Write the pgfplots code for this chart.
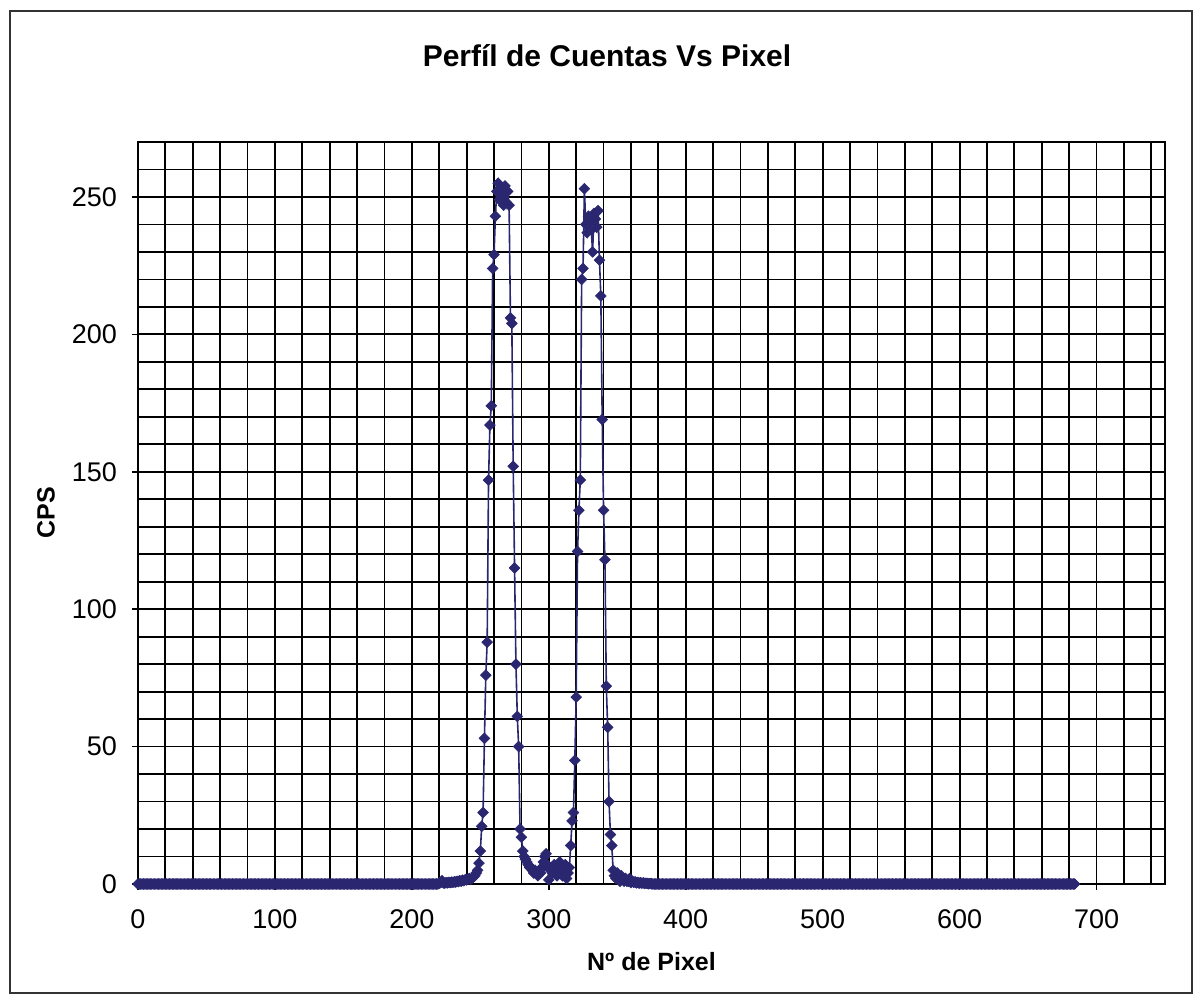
\documentclass[border=0pt]{standalone}
\usepackage{fontspec}
\setmainfont{Liberation Sans}
\usepackage{pgfplots}
\pgfplotsset{compat=1.18}
\definecolor{navy}{RGB}{42,38,112}
\begin{document}
\begin{tikzpicture}
\useasboundingbox (0,0) rectangle (597pt,498.5pt);
\draw[black!80, line width=0.8pt] (5pt,2pt) rectangle (596pt,493pt);
\node[anchor=base, font=\bfseries\fontsize{15}{18}\selectfont] at (303.5pt,465pt) {Perfíl de Cuentas Vs Pixel};
\begin{axis}[
  at={(69pt,56.5pt)}, anchor=south west, scale only axis,
  width=513.5pt, height=371pt,
  xmin=0, xmax=750, ymin=0, ymax=270,
  xtick={0,100,...,700}, ytick={0,50,...,250},
  minor xtick={20,40,...,740}, minor ytick={10,20,...,260},
  grid=both,
  major grid style={black, line width=0.9pt},
  minor grid style={black, line width=0.9pt},
  axis line style={black, line width=0.9pt},
  tick align=outside, major tick length=3pt, minor tick length=0pt,
  tick style={black, line width=0.8pt},
  xtick pos=left, ytick pos=left,
  /pgf/number format/assume math mode=true,
  ticklabel style={font=\fontsize{13.5}{16}\selectfont},
  xticklabel style={yshift=-6.5pt},
  yticklabel style={xshift=-4pt},
  xlabel={Nº de Pixel}, ylabel={CPS},
  label style={font=\bfseries\fontsize{12.5}{15}\selectfont},
  xlabel style={at={(axis description cs:0.5,0)}, anchor=base, yshift=-43pt},
  ylabel style={at={(axis description cs:-0.0896,0.5)}, anchor=center},
]
\addplot[navy, line width=0.8pt, mark=square*, mark size=1.9pt, mark options={rotate=45, line width=0.3pt, fill=navy}] coordinates {
(0,0)(1,0)(2,0)(3,0)(4,0)(5,0)(6,0)(7,0)(8,0)(9,0)
(10,0)(11,0)(12,0)(13,0)(14,0)(15,0)(16,0)(17,0)(18,0)(19,0)
(20,0)(21,0)(22,0)(23,0)(24,0)(25,0)(26,0)(27,0)(28,0)(29,0)
(30,0)(31,0)(32,0)(33,0)(34,0)(35,0)(36,0)(37,0)(38,0)(39,0)
(40,0)(41,0)(42,0)(43,0)(44,0)(45,0)(46,0)(47,0)(48,0)(49,0)
(50,0)(51,0)(52,0)(53,0)(54,0)(55,0)(56,0)(57,0)(58,0)(59,0)
(60,0)(61,0)(62,0)(63,0)(64,0)(65,0)(66,0)(67,0)(68,0)(69,0)
(70,0)(71,0)(72,0)(73,0)(74,0)(75,0)(76,0)(77,0)(78,0)(79,0)
(80,0)(81,0)(82,0)(83,0)(84,0)(85,0)(86,0)(87,0)(88,0)(89,0)
(90,0)(91,0)(92,0)(93,0)(94,0)(95,0)(96,0)(97,0)(98,0)(99,0)
(100,0)(101,0)(102,0)(103,0)(104,0)(105,0)(106,0)(107,0)(108,0)(109,0)
(110,0)(111,0)(112,0)(113,0)(114,0)(115,0)(116,0)(117,0)(118,0)(119,0)
(120,0)(121,0)(122,0)(123,0)(124,0)(125,0)(126,0)(127,0)(128,0)(129,0)
(130,0)(131,0)(132,0)(133,0)(134,0)(135,0)(136,0)(137,0)(138,0)(139,0)
(140,0)(141,0)(142,0)(143,0)(144,0)(145,0)(146,0)(147,0)(148,0)(149,0)
(150,0)(151,0)(152,0)(153,0)(154,0)(155,0)(156,0)(157,0)(158,0)(159,0)
(160,0)(161,0)(162,0)(163,0)(164,0)(165,0)(166,0)(167,0)(168,0)(169,0)
(170,0)(171,0)(172,0)(173,0)(174,0)(175,0)(176,0)(177,0)(178,0)(179,0)
(180,0)(181,0)(182,0)(183,0)(184,0)(185,0)(186,0)(187,0)(188,0)(189,0)
(190,0)(191,0)(192,0)(193,0)(194,0)(195,0)(196,0)(197,0)(198,0)(199,0)
(200,0)(201,0)(202,0)(203,0)(204,0)(205,0)(206,0)(207,0)(208,0)(209,0)
(210,0)(211,0)(212,0)(213,0)(214,0)(215,0)(216,0)(217,0)(218,0)(219,0)
(220,0.3)(221,0.5)(222,1.2)(223,0.4)(224,0.3)(225,0.5)(226,0.4)(227,0.6)(228,0.5)(229,0.7)
(230,0.6)(231,0.8)(232,0.7)(233,1)(234,0.9)(235,1.2)(236,1)(237,1.4)(238,1.2)(239,1.6)
(240,1.5)(241,1.8)(242,2)(243,1.7)(244,2.2)(245,2.5)(246,3)(247,4)(248,5)(249,7.6)
(250,12)(251,21)(252,26)(253,53)(254,76)(255,88)(256,147)(257,167)(258,174)(259,224)
(260,229)(261,243)(262,252)(263,255)(264,249)(265,253)(266,251)(267,247)(268,254)(269,248)
(270,252)(271,247)(272,206)(273,204)(274,152)(275,115)(276,80)(277,61)(278,50)(279,20)
(280,17)(281,12)(282,10)(283,9)(284,8)(285,7)(286,6)(287,6)(288,5)(289,4)
(290,5)(291,4)(292,3)(293,5)(294,4)(295,6)(296,8)(297,10)(298,11)(299,7)
(300,1.5)(301,5)(302,6)(303,4)(304,7)(305,5)(306,3)(307,6)(308,8)(309,5)
(310,3)(311,6)(312,7)(313,2)(314,4)(315,6)(316,14)(317,23)(318,26)(319,45)
(320,68)(321,121)(322,136)(323,147)(324,220)(325,224)(326,253)(327,240)(328,237)(329,243)
(330,241)(331,238)(332,230)(333,244)(334,242)(335,239)(336,245)(337,227)(338,214)(339,169)
(340,136)(341,118)(342,72)(343,57)(344,30)(345,18)(346,14)(347,5)(348,3)(349,2)
(350,4)(351,3)(352,1)(353,3)(354,2)(355,1)(356,2)(357,1)(358,1)(359,2)
(360,0.5)(361,1)(362,0.6)(363,0.8)(364,0.4)(365,0.6)(366,0.3)(367,0.5)(368,0.3)(369,0.4)
(370,0.2)(371,0.3)(372,0.2)(373,0.1)(374,0.2)(375,0.1)(376,0)(377,0)(378,0)(379,0)
(380,0)(381,0)(382,0)(383,0)(384,0)(385,0)(386,0)(387,0)(388,0)(389,0)
(390,0)(391,0)(392,0)(393,0)(394,0)(395,0)(396,0)(397,0)(398,0)(399,0)
(400,0)(401,0)(402,0)(403,0)(404,0)(405,0)(406,0)(407,0)(408,0)(409,0)
(410,0)(411,0)(412,0)(413,0)(414,0)(415,0)(416,0)(417,0)(418,0)(419,0)
(420,0)(421,0)(422,0)(423,0)(424,0)(425,0)(426,0)(427,0)(428,0)(429,0)
(430,0)(431,0)(432,0)(433,0)(434,0)(435,0)(436,0)(437,0)(438,0)(439,0)
(440,0)(441,0)(442,0)(443,0)(444,0)(445,0)(446,0)(447,0)(448,0)(449,0)
(450,0)(451,0)(452,0)(453,0)(454,0)(455,0)(456,0)(457,0)(458,0)(459,0)
(460,0)(461,0)(462,0)(463,0)(464,0)(465,0)(466,0)(467,0)(468,0)(469,0)
(470,0)(471,0)(472,0)(473,0)(474,0)(475,0)(476,0)(477,0)(478,0)(479,0)
(480,0)(481,0)(482,0)(483,0)(484,0)(485,0)(486,0)(487,0)(488,0)(489,0)
(490,0)(491,0)(492,0)(493,0)(494,0)(495,0)(496,0)(497,0)(498,0)(499,0)
(500,0)(501,0)(502,0)(503,0)(504,0)(505,0)(506,0)(507,0)(508,0)(509,0)
(510,0)(511,0)(512,0)(513,0)(514,0)(515,0)(516,0)(517,0)(518,0)(519,0)
(520,0)(521,0)(522,0)(523,0)(524,0)(525,0)(526,0)(527,0)(528,0)(529,0)
(530,0)(531,0)(532,0)(533,0)(534,0)(535,0)(536,0)(537,0)(538,0)(539,0)
(540,0)(541,0)(542,0)(543,0)(544,0)(545,0)(546,0)(547,0)(548,0)(549,0)
(550,0)(551,0)(552,0)(553,0)(554,0)(555,0)(556,0)(557,0)(558,0)(559,0)
(560,0)(561,0)(562,0)(563,0)(564,0)(565,0)(566,0)(567,0)(568,0)(569,0)
(570,0)(571,0)(572,0)(573,0)(574,0)(575,0)(576,0)(577,0)(578,0)(579,0)
(580,0)(581,0)(582,0)(583,0)(584,0)(585,0)(586,0)(587,0)(588,0)(589,0)
(590,0)(591,0)(592,0)(593,0)(594,0)(595,0)(596,0)(597,0)(598,0)(599,0)
(600,0)(601,0)(602,0)(603,0)(604,0)(605,0)(606,0)(607,0)(608,0)(609,0)
(610,0)(611,0)(612,0)(613,0)(614,0)(615,0)(616,0)(617,0)(618,0)(619,0)
(620,0)(621,0)(622,0)(623,0)(624,0)(625,0)(626,0)(627,0)(628,0)(629,0)
(630,0)(631,0)(632,0)(633,0)(634,0)(635,0)(636,0)(637,0)(638,0)(639,0)
(640,0)(641,0)(642,0)(643,0)(644,0)(645,0)(646,0)(647,0)(648,0)(649,0)
(650,0)(651,0)(652,0)(653,0)(654,0)(655,0)(656,0)(657,0)(658,0)(659,0)
(660,0)(661,0)(662,0)(663,0)(664,0)(665,0)(666,0)(667,0)(668,0)(669,0)
(670,0)(671,0)(672,0)(673,0)(674,0)(675,0)(676,0)(677,0)(678,0)(679,0)
(680,0)(681,0)(682,0)(683,0)(684,0)
};
\end{axis}
\end{tikzpicture}
\end{document}
